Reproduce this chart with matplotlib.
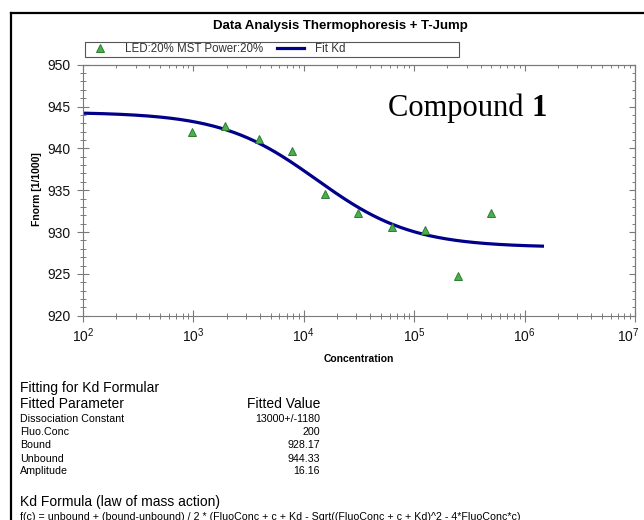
import numpy as np
import matplotlib
matplotlib.use("Agg")
import matplotlib.pyplot as plt
from matplotlib.lines import Line2D
from matplotlib.patches import Rectangle
from matplotlib.transforms import ScaledTranslation
from matplotlib.ticker import LogLocator, MultipleLocator, NullFormatter, LogFormatterMathtext

plt.rcParams['font.family'] = ['Liberation Sans', 'DejaVu Sans']
plt.rcParams['mathtext.fontset'] = 'custom'
plt.rcParams['mathtext.rm'] = 'Liberation Sans'
plt.rcParams['mathtext.it'] = 'Liberation Sans:italic'
plt.rcParams['mathtext.bf'] = 'Liberation Sans:bold'

# ---- data ----
concentration = [976.6, 1953, 3906, 7813, 15625, 31250, 62500, 125000, 250000, 500000]
fnorm = [941.99, 942.71, 941.12, 939.69, 934.55, 932.24, 930.64, 930.24, 924.75, 932.31]

kd = 13000.0
fluo_conc = 200.0
bound = 928.17
unbound = 944.33
amplitude = 16.16
fit_range = (100, 1.45e6)

param_names = ["Dissociation Constant", "Fluo.Conc", "Bound", "Unbound", "Amplitude"]
param_values = ["13000+/-1180", "200", "928.17", "944.33", "16.16"]

W, H = 644, 520
fig = plt.figure(figsize=(W / 100, H / 100), dpi=100)

def fx(px):
    return px / W

def fy(py):
    return 1 - py / H

ax_l, ax_r, ax_t, ax_b = 83, 635, 64.7, 315.7
ax = fig.add_axes([fx(ax_l), fy(ax_b), (ax_r - ax_l) / W, (ax_b - ax_t) / H])

grey = '#7a7a7a'

c = np.geomspace(fit_range[0], fit_range[1], 400)
fit = unbound + (bound - unbound) / 2 * (fluo_conc + c + kd - np.sqrt((fluo_conc + c + kd) ** 2 - 4 * fluo_conc * c)) / fluo_conc
line_fit, = ax.plot(c, fit, color='#00008b', lw=2.3, zorder=2)
pts, = ax.plot(concentration, fnorm, ls='none', marker='^', markersize=6.2,
               markerfacecolor='#4cae4c', markeredgecolor='#2e7d32', markeredgewidth=0.7, zorder=3)

ax.set_xscale('log')
ax.set_xlim(1e2, 1e7)
ax.set_ylim(920, 950)
ax.yaxis.set_major_locator(MultipleLocator(5))
ax.yaxis.set_minor_locator(MultipleLocator(1))
ax.xaxis.set_major_locator(LogLocator(base=10, numticks=10))
ax.xaxis.set_minor_locator(LogLocator(base=10, subs=np.arange(2, 10), numticks=20))
ax.xaxis.set_minor_formatter(NullFormatter())
ax.xaxis.set_major_formatter(LogFormatterMathtext())

for s in ax.spines.values():
    s.set_color(grey)
    s.set_linewidth(0.8)

ax.tick_params(which='both', direction='inout', colors=grey, labelcolor='#111111',
               top=False, right=False, labelsize=10)
ax.tick_params(which='major', length=8, width=0.8)
ax.tick_params(which='minor', length=5, width=0.7)
ax.tick_params(axis='y', pad=5)
ax.tick_params(axis='x', pad=4)

# top & right inward ticks
sx = ax.secondary_xaxis('top')
sx.set_xscale('log')
sx.xaxis.set_major_locator(LogLocator(base=10, numticks=10))
sx.xaxis.set_minor_locator(LogLocator(base=10, subs=np.arange(2, 10), numticks=20))
sx.xaxis.set_major_formatter(NullFormatter())
sx.xaxis.set_minor_formatter(NullFormatter())
sx.tick_params(which='both', direction='in', colors=grey)
sx.tick_params(which='major', length=4, width=0.8)
sx.tick_params(which='minor', length=2.5, width=0.7)
sx.spines['top'].set_color(grey)
sx.spines['top'].set_linewidth(0.8)

sy = ax.secondary_yaxis('right')
sy.yaxis.set_major_locator(MultipleLocator(5))
sy.yaxis.set_minor_locator(MultipleLocator(1))
sy.yaxis.set_major_formatter(NullFormatter())
sy.tick_params(which='both', direction='in', colors=grey)
sy.tick_params(which='major', length=4, width=0.8)
sy.tick_params(which='minor', length=2.5, width=0.7)
sy.spines['right'].set_color(grey)
sy.spines['right'].set_linewidth(0.8)

ax.set_xlabel('Concentration', fontsize=7.5, fontweight='bold', labelpad=6)
fig.text(fx(37), fy(189), 'Fnorm [1/1000]', rotation=90, fontsize=7.5, fontweight='bold',
         ha='center', va='center')

# title
fig.text(fx(340.5), fy(26), 'Data Analysis Thermophoresis + T-Jump', fontsize=9.5,
         fontweight='bold', ha='center', va='center')

# legend box
fig.patches.append(Rectangle((fx(85), fy(57)), (459 - 85) / W, 15 / H, transform=fig.transFigure,
                             facecolor='white', edgecolor='#555555', lw=0.8, zorder=1))
leg = fig.legend([pts, line_fit], ['LED:20% MST Power:20%', 'Fit Kd'], ncol=2,
                 loc='center left', bbox_to_anchor=(fx(87), fy(49.5)), frameon=False,
                 fontsize=8.3, numpoints=1, handlelength=2.3, handletextpad=1.0,
                 columnspacing=1.2, borderpad=0, borderaxespad=0)
for t in leg.get_texts():
    t.set_color('#333333')

# compound label
t1 = fig.text(fx(388), fy(108), 'Compound ', fontsize=22, family='Liberation Serif',
              ha='left', va='center')
fig.canvas.draw()
bb = t1.get_window_extent()
fig.text(bb.x1 / W, fy(108), '1', fontsize=22, family='Liberation Serif', fontweight='bold',
         ha='left', va='center')

# keep the last x tick label inside the figure, as in the reference
for lab in ax.get_xticklabels():
    if '7' in lab.get_text():
        lab.set_transform(lab.get_transform() + ScaledTranslation(-7 / 100, 0, fig.dpi_scale_trans))

# frame
fig.add_artist(Line2D([fx(11), fx(644)], [fy(13), fy(13)], transform=fig.transFigure,
                      color='black', lw=1.6))
fig.add_artist(Line2D([fx(11), fx(11)], [fy(13), fy(520)], transform=fig.transFigure,
                      color='black', lw=1.6))

# text block
fig.text(fx(20), fy(388), 'Fitting for Kd Formular', fontsize=10, ha='left', va='center')
fig.text(fx(20), fy(404), 'Fitted Parameter', fontsize=10, ha='left', va='center')
fig.text(fx(320), fy(404), 'Fitted Value', fontsize=10, ha='right', va='center')
row_y = [419, 432, 445, 458.5, 471]
for name, val, yy in zip(param_names, param_values, row_y):
    fig.text(fx(20), fy(yy), name, fontsize=7.7, ha='left', va='center')
    fig.text(fx(320), fy(yy), val, fontsize=7.7, ha='right', va='center')

fig.text(fx(20), fy(502), 'Kd Formula (law of mass action)', fontsize=10, ha='left', va='center')
fig.text(fx(20), fy(516.5),
         'f(c) = unbound + (bound-unbound) / 2 * (FluoConc + c + Kd - Sqrt((FluoConc + c + Kd)^2 - 4*FluoConc*c)',
         fontsize=7.7, ha='left', va='center')

fig.savefig('out.png', dpi=100)
